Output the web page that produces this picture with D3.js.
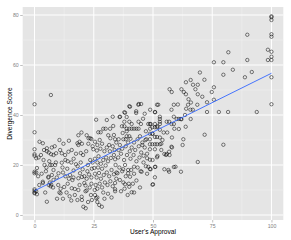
<!DOCTYPE html>
<html>
<head>
<meta charset="utf-8">
<script src="https://cdn.jsdelivr.net/npm/d3@7"></script>
<style>
  html, body { margin: 0; padding: 0; background: #ffffff; }
  svg { display: block; }
  text { font-family: "Liberation Sans", Arial, Helvetica, sans-serif; }
</style>
</head>
<body>
<div id="chart"></div>
<script>
// ---- data ----
const approval = [
  0,0,0,0,0,0.7,0,0.7,0,0,0,0.7,0,0,1,1,1.7,2.1,1.5,2,
  3.5,2.7,3.5,3.5,4,4.2,3,4.5,3.8,4.8,
  5.2,6,7,8,5.2,7.3,5.8,6.5,7,6.8,7.8,6,5.9,7.3,6.6,7.3,8.7,9.1,9.4,10.1,10,5.2,6.9,8,9,8.5,5,9.5,6.2,8,
  10.8,11.5,12.9,14.3,11.5,13,14,15.5,12,13,14.5,15,11,12.5,13.5,14,12,14.8,11.8,13.8,10.5,12.2,14.5,10.5,11,
  15.7,16.4,16,15.7,17,18.5,18.5,19,20,18.5,19.2,20,16.5,17.5,18.2,19.5,18.1,20,17,19,16.5,19.8,18.1,18.5,17.5,15.5,19.5,19.9,
  20.6,21.6,21.5,22,22.7,22,22.8,23.5,24,21,22,23,24,22.5,23.5,24.5,24,21.5,22.6,24.2,23.8,20.5,21.8,24.5,20.3,22.3,24.2,21,23.3,24.8,
  25.4,26,26.9,27.9,25.5,26.5,27.5,28.5,29,25.5,26.5,27,28,29,25.5,26.2,27.2,28,29.2,25.8,26.5,27.5,28.5,29,26,26.5,27.3,28.4,25.2,26.8,28.5,29.5,26.3,27.8,29.7,29.5,25.5,26.5,
  30,31.9,33.2,31.1,32,33.5,34,30.5,31.5,33,34.5,30.2,31,32.2,33.5,34.2,30.5,31.5,32.5,33.5,34.6,30.8,32,33,34,31,32.5,34,30,31.8,33.8,34.5,30.5,33,34,35,34,
  35.9,36.1,36.9,37.9,38.2,37.9,37.9,38.9,38.9,38.9,38.9,40,35.5,37.5,38.5,36,37,38.5,39.5,35.3,36.5,37.8,39,35.8,37,38.2,39.5,36,37.5,38.5,39.8,36.5,38,39.3,35.5,37.2,38.2,40,41,37.4,
  40,40.3,40,41,40,41,42,43,43.9,42.9,42.9,43.8,45,44,43.9,44.9,40.5,42,43.5,44.5,41,42.5,44,40.5,41.8,43,44.3,40.8,42,43.5,44.8,41.5,43,44.5,42,40.2,45,39.5,42,40.3,
  47,48,49,48.8,48.8,49.8,48.7,48.7,49.7,49.7,48.7,48.7,49.7,48.7,49.8,48.7,48.7,49.8,45.5,46.5,47.5,46,47,45.5,46.8,47.5,46,47.5,45.8,46.5,47.2,45.2,48,49,50,
  50.8,51.7,50.9,52.9,52.9,52.9,52.9,51.9,50.8,52.9,50.8,51.7,52.9,50.8,51.7,50.8,51.7,52.9,50.8,51.7,50.8,50.8,54.8,54.8,52.2,54,53.5,51,51.9,53.5,54.5,
  55.8,56.8,57.8,56.8,58.8,55.8,56.8,57.8,58.8,57.8,58.8,58.8,57,57.9,56,58,59,55.5,57,58,56.5,59.5,
  60,60.9,61.8,60.9,62,62.8,61.8,62,63,63.9,63.9,64.8,63.8,65,66,64,60.5,63.5,62.5,
  65.8,66.8,65.9,65.9,66.9,68.9,67.9,68.9,68.7,68.9,69.8,
  70.8,71.7,71.8,72.8,72.8,74.8,75.7,75.7,75.7,77.8,79.7,79.7,79.7,81.7,
  81.8,83.7,88.8,89.8,89.8,91.7,93.8,98.5,98.5,100,100,100,100,100,100,100,100,100,100
];
const divergence = [
  44.3,33.1,26.3,24.3,23.7,22.7,17.3,17,16.7,10.3,9.7,9.5,9,8.7,8.3,18.8,23,29.3,15.5,12,
  28.7,24,13.3,12.8,26,20,16.5,9,22,17.5,
  25.5,25,24.3,24,26.7,27,15,13,12.2,11.5,11,12,15.3,16,20,20,20,24.7,15,16.7,12,5.3,48,18,21,27.5,19,6.5,21.5,14,
  26,24.7,24,25.3,20.9,22,21.5,21,17,15.5,14.5,16,10.5,11.2,9,12.5,6.5,7.5,19,18.5,30,28.5,29.7,9,8.7,
  26,15,14,10.7,10.4,10,28,29.3,28.5,14.7,16.7,15.2,22.5,20.3,19.5,21,6,6,8,12,17.8,33,28.7,31.9,24.5,5.8,24.8,7.3,
  3.3,2.7,9.5,9.8,28.5,31.9,30.7,30.7,30.4,15.5,14.5,16.2,15,20,22,21,12.5,11.8,5.2,6,8,24,25.5,27.5,18.3,17.5,18.5,12.8,11,26.3,
  10,38.1,33.1,33.1,29.3,28,30,28.5,34.5,22.5,21,23.5,20.5,22,16.5,15,16.8,14.5,16,12,10.5,12.5,11,9,6.7,5.2,4,3.3,18.8,19,18.5,25.5,25.8,26.5,13,6.5,8,7,
  34.5,34.5,35.6,31.9,30.7,32,30.3,27,28,27.5,29,23,21.5,22.8,24,20,17,15.5,18,16.3,17,12,13.5,11.5,12.8,8.5,7,9.5,19.8,25.5,26,14.5,38,39.3,22.3,16.7,10.3,
  39.2,39.3,35.5,35.5,40.9,41.1,37.3,39.2,34.5,33.5,31.5,31.5,30.3,30.3,30.3,28,26.5,27.5,29,23,24.5,22,24,19,17.5,20,18,14,13,15.5,12.5,9.5,10.5,8,26,32.8,12.3,11.3,9.1,18.3,
  43.5,43.3,37.3,36.4,34.5,34.5,34.5,34.5,34.5,40.8,41.5,44.1,44.4,44.4,37.3,36.4,30.5,29,30.3,31.5,27,26,27.5,22.5,24,21.5,23,18,16.5,19,17.5,12.5,13.8,11,9,25.5,25,16.7,19.3,15.3,
  33.5,36.4,36.4,42.1,34.5,32.5,36.4,32.5,32.5,35.1,30.3,28.3,28.3,26.3,22,22.1,18.4,12.1,29,27,24.5,21,19.5,28,30,16.5,23.7,22.7,38.5,40.5,30.3,17.3,19.3,18.3,12.3,
  41.2,44.1,41.1,39.3,38.4,37.3,36.4,35.5,36.4,34.1,35.1,35.1,31,31.2,31.2,28.3,28.3,28.3,26.3,23.1,19.2,15.1,24.4,18.3,44.1,30,26,19.3,23.6,28.5,33,
  24.4,25.3,27.3,17.3,19.2,37.3,37.3,36.4,36.4,42.1,44.1,39.3,50.3,49.2,33,31,34.5,24,24,27,18,19.3,
  38.4,38.4,38.4,34.4,38.3,30.3,17.3,50.3,49.2,48.3,53.1,44.1,35.3,46.3,45,42.5,44.2,40,28,
  42.1,42.1,38.4,54,52.1,52.1,50.3,48.3,44.1,21.2,57,
  47.3,54.1,32.1,45.1,41.2,49.2,51.1,46.1,61.1,41.2,61.1,56.1,28.1,41.2,
  65.1,58.1,55.1,72.1,62,57.2,41.2,66.1,62,79.1,78,72.3,71.3,65.3,63.3,62,55.1,44.3,79.5
];
// linear fit (geom_smooth, method = "lm") end points
const fitX = [0, 100];
const fitY = [9.7, 56.7];

const xTicks = [0, 25, 50, 75, 100];
const yTicks = [0, 20, 40, 60, 80];
const xMinor = [12.5, 37.5, 62.5, 87.5];
const yMinor = [10, 30, 50, 70];
const xTitle = "User's Approval";
const yTitle = "Divergence Score";

// ---- drawing ----
const W = 291, H = 240;
const panel = { left: 22.7, right: 283.3, top: 7, bottom: 220 };

const svg = d3.select("#chart").append("svg")
  .attr("width", W).attr("height", H);

const x = d3.scaleLinear().domain([-5, 105]).range([panel.left, panel.right]);
const y = d3.scaleLinear().domain([-2, 83.2]).range([panel.bottom, panel.top]);

svg.append("rect")
  .attr("x", panel.left).attr("y", panel.top)
  .attr("width", panel.right - panel.left).attr("height", panel.bottom - panel.top)
  .attr("fill", "#E5E5E5");

const grid = svg.append("g");
grid.selectAll(".xminor").data(xMinor).enter().append("line")
  .attr("x1", d => x(d)).attr("x2", d => x(d))
  .attr("y1", panel.top).attr("y2", panel.bottom)
  .attr("stroke", "#F2F2F2").attr("stroke-width", 0.5);
grid.selectAll(".yminor").data(yMinor).enter().append("line")
  .attr("y1", d => y(d)).attr("y2", d => y(d))
  .attr("x1", panel.left).attr("x2", panel.right)
  .attr("stroke", "#F2F2F2").attr("stroke-width", 0.5);
grid.selectAll(".xmajor").data(xTicks).enter().append("line")
  .attr("x1", d => x(d)).attr("x2", d => x(d))
  .attr("y1", panel.top).attr("y2", panel.bottom)
  .attr("stroke", "#FFFFFF").attr("stroke-width", 1);
grid.selectAll(".ymajor").data(yTicks).enter().append("line")
  .attr("y1", d => y(d)).attr("y2", d => y(d))
  .attr("x1", panel.left).attr("x2", panel.right)
  .attr("stroke", "#FFFFFF").attr("stroke-width", 1);

// axes
const xAxis = d3.axisBottom(x).tickValues(xTicks).tickSize(2.5).tickPadding(1.5).tickFormat(d3.format("d"));
const yAxis = d3.axisLeft(y).tickValues(yTicks).tickSize(2.5).tickPadding(1.5).tickFormat(d3.format("d"));

const gx = svg.append("g").attr("transform", `translate(0,${panel.bottom})`).call(xAxis);
const gy = svg.append("g").attr("transform", `translate(${panel.left},0)`).call(yAxis);
[gx, gy].forEach(g => {
  g.select(".domain").remove();
  g.selectAll(".tick line").attr("stroke", "#7F7F7F").attr("stroke-width", 0.5);
  g.selectAll(".tick text").attr("fill", "#7F7F7F").attr("font-size", 5.2)
    .attr("font-family", "'Liberation Sans', Arial, sans-serif");
});

// points
svg.append("g").selectAll("circle")
  .data(d3.range(approval.length))
  .enter().append("circle")
  .attr("cx", i => x(approval[i]))
  .attr("cy", i => y(divergence[i]))
  .attr("r", 1.7)
  .attr("fill", "none")
  .attr("stroke", "#000000")
  .attr("stroke-width", 0.5);

// fit line
const line = d3.line().x(i => x(fitX[i])).y(i => y(fitY[i]));
svg.append("path")
  .datum(d3.range(fitX.length))
  .attr("d", line)
  .attr("fill", "none")
  .attr("stroke", "#3366FF")
  .attr("stroke-width", 0.9);

// titles
svg.append("text")
  .attr("x", (panel.left + panel.right) / 2).attr("y", 234)
  .attr("text-anchor", "middle").attr("font-size", 6.6).attr("fill", "#000")
  .text(xTitle);
svg.append("text")
  .attr("transform", `translate(12.3,${(panel.top + panel.bottom) / 2}) rotate(-90)`)
  .attr("text-anchor", "middle").attr("font-size", 6.6).attr("fill", "#000")
  .text(yTitle);
</script>
</body>
</html>
